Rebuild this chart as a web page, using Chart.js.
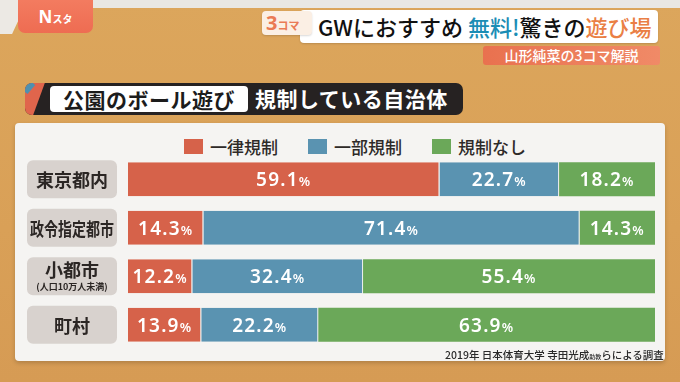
<!DOCTYPE html>
<html lang="ja">
<head>
<meta charset="utf-8">
<title>公園のボール遊び 規制している自治体</title>
<script src="https://cdn.jsdelivr.net/npm/chart.js@4.4.1/dist/chart.umd.min.js"></script>
<style>
  html, body { margin: 0; padding: 0; }
  body { font-family: "Noto Sans CJK JP", "Noto Sans", sans-serif; }
  #stage {
    position: relative; width: 680px; height: 382px; overflow: hidden;
    background: linear-gradient(180deg, #dca65c 0%, #d9a057 60%, #d69b54 100%);
  }
  .topstrip { position: absolute; left: 0; top: 0; width: 680px; height: 8px; background: #e9e7e3; }
  .wedge { position: absolute; left: -20px; top: 0; width: 40px; height: 34px; background: #ece9e4; transform: skewX(-25deg); }
  .logo {
    position: absolute; left: 18px; top: -6px; width: 75px; height: 39px; border-radius: 7px;
    background: linear-gradient(180deg, #f47e62, #ee6c52); color: #fff;
    font: bold 17px "Noto Sans", sans-serif; text-align: center; line-height: 46px;
  }
  .logo small { font-size: 10px; font-family: "Noto Sans CJK JP"; }
  .banner {
    position: absolute; left: 300px; top: 10px; width: 358px; height: 33px; background: #fff;
    border-radius: 4px; box-shadow: 0 1px 2px rgba(0,0,0,.15);
  }
  .banner .txt {
    position: absolute; left: 18px; top: 0; line-height: 33px; white-space: nowrap;
    font: 500 22px "Noto Sans CJK JP"; color: #111; letter-spacing: 0px;
  }
  .koma {
    position: absolute; left: 262px; top: 11px; width: 50px; height: 24px; border-radius: 4px;
    background: #fbefe4; color: #ea7a55; font: bold 20px "Noto Sans", sans-serif; line-height: 24px;
    text-indent: 4px; box-shadow: 0 1px 2px rgba(0,0,0,.15);
  }
  .koma small { font: bold 11px "Noto Sans CJK JP"; }
  .sub {
    position: absolute; left: 483px; top: 46px; width: 177px; height: 19px; border-radius: 3px;
    background: linear-gradient(90deg, #e9714f, #f08a67); color: #fff; text-align: center;
    font: 500 14px "Noto Sans CJK JP"; line-height: 19px;
  }
  .titlebar {
    position: absolute; left: 25px; top: 83px; width: 438px; height: 32px; border-radius: 7px;
    background: #262222; overflow: hidden;
  }
  .titlebar .deco1 { position: absolute; left: -10px; top: 0; width: 24px; height: 32px; background: #e0654c; transform: skewX(-20deg); }
  .titlebar .deco2 { position: absolute; left: -6px; top: -4px; width: 14px; height: 12px; background: #4f90b0; transform: rotate(40deg); }
  .titlebar .box {
    position: absolute; left: 25px; top: 3px; width: 198px; height: 26px; border-radius: 4px; background: #fff;
    color: #1c1c1c; font: bold 21px "Noto Sans CJK JP"; line-height: 26px; text-align: center; letter-spacing: 0.5px;
  }
  .titlebar .rest {
    position: absolute; left: 230px; top: 0; line-height: 32px; color: #fff;
    font: bold 21px "Noto Sans CJK JP"; letter-spacing: 0.5px;
  }
  .panel {
    position: absolute; left: 15px; top: 123px; width: 650px; height: 238px; border-radius: 4px;
    background: #f5f4f2; box-shadow: 0 2px 4px rgba(0,0,0,.18);
  }
  #legend { position: absolute; left: 184px; top: 134px; display: flex; align-items: center; }
  #legend .item { display: flex; align-items: center; margin-right: 30px; font: 500 17px "Noto Sans CJK JP"; color: #2e2a28; }
  #legend .sw { width: 19px; height: 15px; margin-right: 7px; }
  #chart { position: absolute; left: 0; top: 0; }
  .note {
    position: absolute; left: 445px; top: 347px; font: 500 10.5px "Noto Sans CJK JP"; color: #2a2a2a; white-space: nowrap;
  }
  .note small { font-size: 6px; }
</style>
</head>
<body>
<div id="stage">
  <div class="topstrip"></div>
  <div class="wedge"></div>
  <div class="logo">N<small>スタ</small></div>
  <div class="banner"><div class="txt">GWにおすすめ <span style="color:#1b8db5">無料!</span>驚きの<span style="color:#ea7f45">遊び場</span></div></div>
  <div class="koma">3<small>コマ</small></div>
  <div class="sub">山形純菜の3コマ解説</div>
  <div class="titlebar">
    <div class="deco1"></div><div class="deco2"></div>
    <div class="box">公園のボール遊び</div>
    <div class="rest">規制している自治体</div>
  </div>
  <div class="panel"></div>
  <div id="legend"></div>
  <canvas id="chart" width="680" height="382"></canvas>
  <div class="note">2019年 日本体育大学 寺田光成<small>助教</small>らによる調査</div>
</div>
<script>
// データ
const categories = ["東京都内", "政令指定都市", "小都市", "町村"]
const categoryNotes = ["", "", "(人口10万人未満)", ""]
const seriesNames = ["一律規制", "一部規制", "規制なし"]
const uniformBan = [59.1, 14.3, 12.2, 13.9]
const partialBan = [22.7, 71.4, 32.4, 22.2]
const noBan = [18.2, 14.3, 55.4, 63.9]
const seriesColors = ["#d6624a", "#5a93b1", "#6ba859"]

const seriesValues = [uniformBan, partialBan, noBan]

// 凡例
const legend = document.getElementById("legend")
seriesNames.forEach((name, i) => {
  const item = document.createElement("div")
  item.className = "item"
  item.innerHTML = `<span class="sw" style="background:${seriesColors[i]}"></span>${name}`
  legend.appendChild(item)
})

// 項目ラベル（灰色のボックス）
const categoryBoxes = {
  id: "categoryBoxes",
  beforeDatasetsDraw(chart) {
    const ctx = chart.ctx
    const yScale = chart.scales.y
    categories.forEach((name, i) => {
      const cy = yScale.getPixelForValue(i)
      ctx.save()
      ctx.fillStyle = "#d8d2ce"
      ctx.beginPath()
      ctx.roundRect(27, cy - 19, 90, 38, 6)
      ctx.fill()
      ctx.fillStyle = "#2b2624"
      ctx.textAlign = "center"
      ctx.textBaseline = "middle"
      if (categoryNotes[i]) {
        ctx.font = 'bold 18px "Noto Sans CJK JP"'
        ctx.fillText(name, 72, cy - 6, 82)
        ctx.font = 'bold 9px "Noto Sans CJK JP"'
        ctx.fillText(categoryNotes[i], 72, cy + 10, 84)
      } else {
        ctx.font = 'bold 18px "Noto Sans CJK JP"'
        ctx.fillText(name, 72, cy + 1, 84)
      }
      ctx.restore()
    })
  },
}

// 数値ラベル
const valueLabels = {
  id: "valueLabels",
  afterDatasetsDraw(chart) {
    const ctx = chart.ctx
    chart.data.datasets.forEach((ds, di) => {
      const meta = chart.getDatasetMeta(di)
      meta.data.forEach((bar, i) => {
        const { x, y } = bar.getCenterPoint()
        const num = ds.data[i].toFixed(1)
        ctx.save()
        ctx.fillStyle = "#ffffff"
        ctx.textAlign = "left"
        ctx.textBaseline = "alphabetic"
        ctx.letterSpacing = "1.2px"
        ctx.font = '600 19px "Noto Sans", sans-serif'
        const w1 = ctx.measureText(num).width
        ctx.font = '600 13px "Noto Sans", sans-serif'
        const w2 = ctx.measureText("%").width
        const start = x - (w1 + w2) / 2
        ctx.font = '600 19px "Noto Sans", sans-serif'
        ctx.fillText(num, start, y + 7)
        ctx.font = '600 13px "Noto Sans", sans-serif'
        ctx.fillText("%", start + w1, y + 7)
        ctx.restore()
      })
    })
  },
}

new Chart(document.getElementById("chart").getContext("2d"), {
  type: "bar",
  data: {
    labels: categories,
    datasets: seriesNames.map((name, i) => ({
      label: name,
      data: seriesValues[i],
      backgroundColor: seriesColors[i],
      borderColor: "#eef0ee",
      borderWidth: i < 2 ? { top: 0, bottom: 0, left: 0, right: 1 } : 0,
      borderSkipped: false,
      categoryPercentage: 1,
      barPercentage: 0.7,
    })),
  },
  options: {
    indexAxis: "y",
    responsive: false,
    animation: false,
    layout: { padding: { left: 128, right: 25, top: 155, bottom: 33 } },
    plugins: { legend: { display: false }, tooltip: { enabled: false } },
    scales: {
      x: { stacked: true, min: 0, max: 100, display: false },
      y: { stacked: true, display: false },
    },
  },
  plugins: [categoryBoxes, valueLabels],
})
</script>
</body>
</html>
